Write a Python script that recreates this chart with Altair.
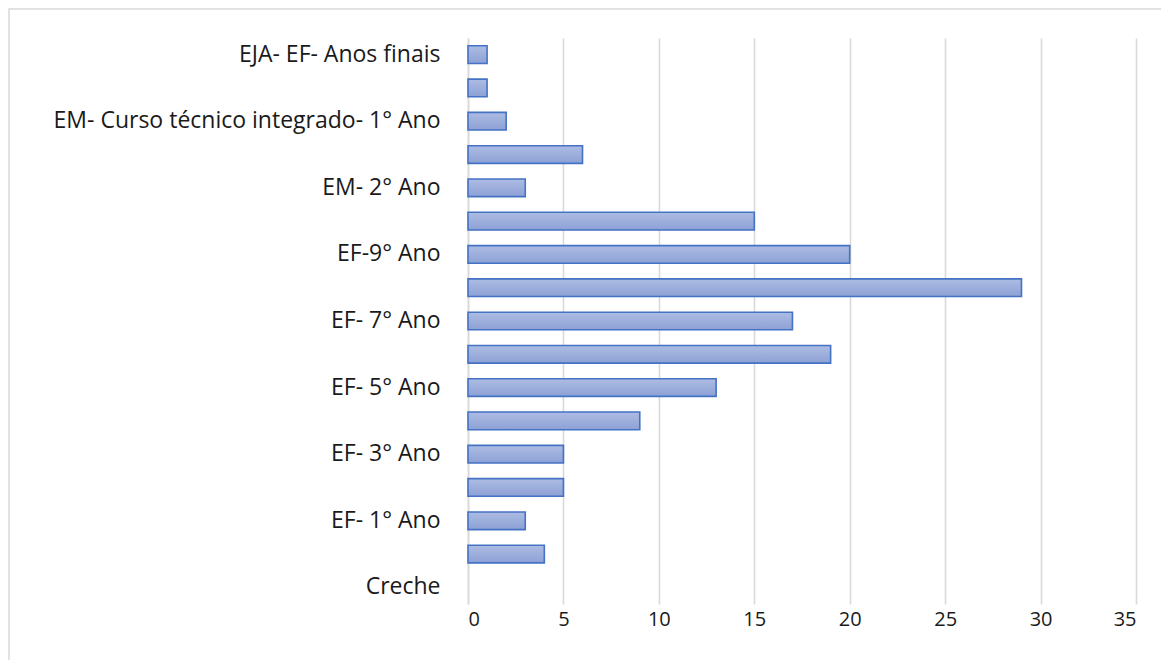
import altair as alt
import pandas as pd

# Categories from bottom to top
categories = [
    "Creche",
    "Pré-escola",
    "EF- 1° Ano",
    "EF- 2° Ano",
    "EF- 3° Ano",
    "EF- 4° Ano",
    "EF- 5° Ano",
    "EF- 6° Ano",
    "EF- 7° Ano",
    "EF- 8° Ano",
    "EF-9° Ano",
    "EM- 1° Ano",
    "EM- 2° Ano",
    "EM- 3° Ano",
    "EM- Curso técnico integrado- 1° Ano",
    "EM- Curso técnico integrado- 2° Ano",
    "EJA- EF- Anos finais",
]
values = [0, 4, 3, 5, 5, 9, 13, 19, 17, 29, 20, 15, 3, 6, 2, 1, 1]

shown_labels = [
    "EJA- EF- Anos finais",
    "EM- Curso técnico integrado- 1° Ano",
    "EM- 2° Ano",
    "EF-9° Ano",
    "EF- 7° Ano",
    "EF- 5° Ano",
    "EF- 3° Ano",
    "EF- 1° Ano",
    "Creche",
]
x_ticks = [0, 5, 10, 15, 20, 25, 30, 35]

df = pd.DataFrame({"cat": categories, "val": values})
order_top_down = list(reversed(categories))

FONT = "Open Sans"
FSIZE = 23
GRID = "#D9D9D9"

bars = alt.Chart(df).mark_bar(
    color=alt.Gradient(
        gradient="linear",
        stops=[
            alt.GradientStop(color="#ADBCE3", offset=0),
            alt.GradientStop(color="#8DA1D5", offset=1),
        ],
        x1=0, x2=0, y1=0, y2=1,
    ),
    stroke="#4472C4",
    strokeWidth=1.6,
).encode(
    x=alt.X(
        "val:Q",
        scale=alt.Scale(domain=[0, 35], nice=False),
        axis=alt.Axis(
            values=x_ticks,
            title=None,
            grid=True,
            gridColor=GRID,
            gridWidth=1.6,
            domain=False,
            ticks=False,
            labelPadding=5,
            labelFont=FONT,
            labelFontSize=20,
            labelColor="#1A1A1A",
        ),
    ),
    y=alt.Y(
        "cat:N",
        sort=order_top_down,
        scale=alt.Scale(paddingInner=0.47, paddingOuter=0.235),
        axis=alt.Axis(
            values=shown_labels,
            title=None,
            domain=True,
            domainColor=GRID,
            domainWidth=1.6,
            ticks=False,
            labelPadding=28,
            labelLimit=500,
            labelFont=FONT,
            labelFontSize=FSIZE,
            labelColor="#1A1A1A",
        ),
    ),
    strokeOpacity=alt.condition("datum.val > 0", alt.value(1), alt.value(0)),
    tooltip=["cat", "val"],
)

frame = alt.Chart(alt.Data(values=[{"a": 1}])).mark_rect(
    fill=None, stroke=GRID, strokeWidth=1.5
).encode(
    x=alt.value(-459), x2=alt.value(800),
    y=alt.value(-29), y2=alt.value(700),
)

chart = alt.layer(frame, bars).properties(
    width=668,
    height=566,
    padding={"left": 460, "top": 30, "right": 25, "bottom": 56},
    autosize=alt.AutoSizeParams(type="none"),
    background="white",
).configure_view(
    stroke=None
)

chart.save("out.html", embed_options={"renderer": "svg", "actions": False})
